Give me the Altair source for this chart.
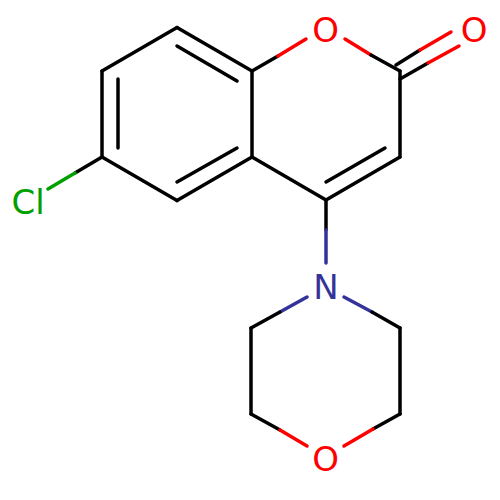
import altair as alt
import pandas as pd

BLACK = "#000000"
RED = "#FF0000"
BLUE = "#333399"
GREEN = "#00A000"

x_start = [177, 102, 102, 177, 252, 252, 177, 118, 177,
           252, 278, 345, 371, 400, 400, 326, 385,
           396, 420, 400, 428,
           102, 75,
           326, 326,
           307, 280, 251, 251, 280,
           344, 372, 400, 400, 373]
y_start = [27.5, 71, 157, 200.5, 157, 71, 46, 79, 182,
           71, 56, 39, 55, 71, 157, 200, 148,
           65, 50, 79, 63,
           157, 173,
           200, 230,
           297, 312, 328, 414, 430,
           297, 312, 328, 414, 429]
x_end = [102, 102, 177, 252, 252, 177, 237, 118, 237,
         278, 306, 371, 400, 400, 326, 252, 326,
         420, 451, 428, 459,
         75, 48,
         326, 326,
         280, 251, 251, 280, 307,
         372, 400, 400, 373, 344]
y_end = [71, 157, 200.5, 157, 71, 27.5, 81, 148, 148,
         56, 39, 55, 71, 157, 200, 157, 182,
         50, 32, 63, 46,
         173, 189,
         230, 263,
         312, 328, 414, 430, 446,
         312, 328, 414, 429, 446]
bond_colors = [BLACK] * 9 + [BLACK, RED, RED, BLACK, BLACK, BLACK, BLACK, BLACK] + \
    [BLACK, RED, BLACK, RED] + [BLACK, GREEN] + [BLACK, BLUE] + \
    [BLUE, BLACK, BLACK, BLACK, RED] + [BLUE, BLACK, BLACK, BLACK, RED]

labels = ["O", "O", "Cl", "N", "O"]
label_x = [325.5, 474, 28, 326, 325.5]
label_y = [31.7, 31.7, 203.5, 288.7, 461]
label_colors = [RED, RED, GREEN, BLUE, RED]

bonds = pd.DataFrame({"x": x_start, "y": y_start, "x2": x_end, "y2": y_end, "c": bond_colors})
atoms = pd.DataFrame({"x": label_x, "y": label_y, "t": labels, "c": label_colors})

xs = alt.Scale(domain=[8, 492], nice=False, zero=False)
ys = alt.Scale(domain=[492, 8], nice=False, zero=False)

lines = alt.Chart(bonds).mark_rule(strokeWidth=3.5, strokeCap="round").encode(
    x=alt.X("x:Q", scale=xs, axis=None),
    y=alt.Y("y:Q", scale=ys, axis=None),
    x2="x2:Q",
    y2="y2:Q",
    color=alt.Color("c:N", scale=None),
)
text = alt.Chart(atoms).mark_text(font="DejaVu Sans", fontSize=34, align="center", baseline="middle").encode(
    x=alt.X("x:Q", scale=xs, axis=None),
    y=alt.Y("y:Q", scale=ys, axis=None),
    text="t:N",
    color=alt.Color("c:N", scale=None),
)
chart = alt.layer(lines, text).properties(
    width=484, height=484, autosize=alt.AutoSizeParams(type="none"), padding=0
).configure_view(stroke=None)
chart.save("out.html", embed_options={"renderer": "svg", "actions": False})
